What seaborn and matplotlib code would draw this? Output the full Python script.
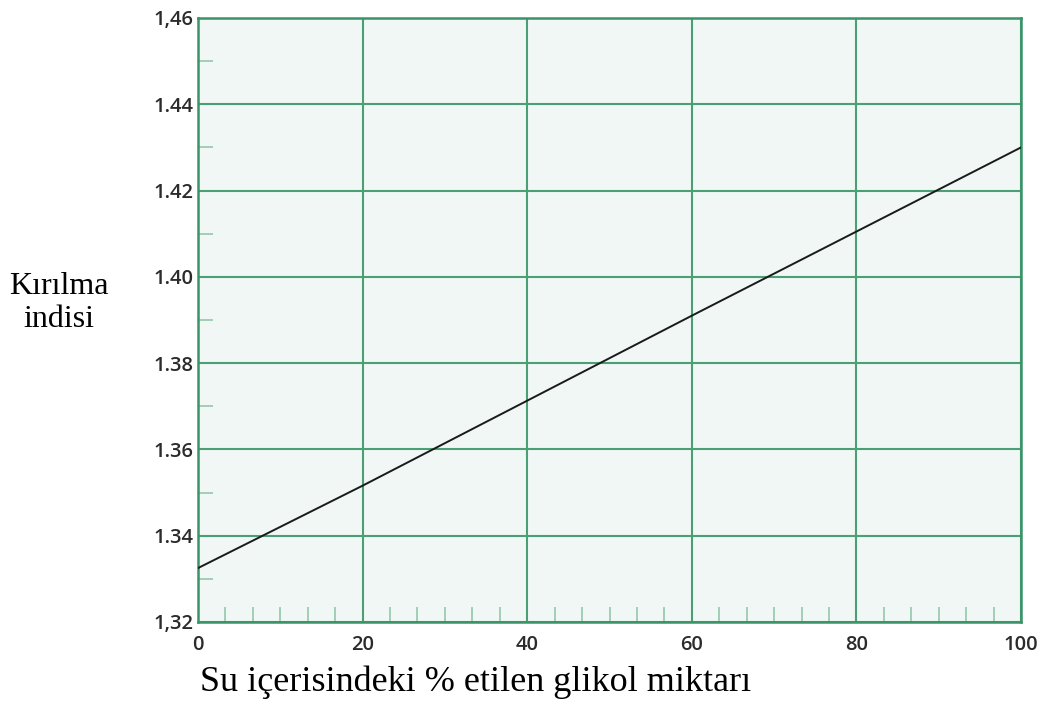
import matplotlib
matplotlib.use("Agg")
import matplotlib.pyplot as plt
import seaborn as sns
import pandas as pd
import numpy as np
from matplotlib.ticker import MultipleLocator

# Data
glycol_pct = [0, 20, 40, 60, 80, 100]
refr_index = [1.3325, 1.3516, 1.3713, 1.3910, 1.4105, 1.4300]
y_ticks = [1.32, 1.34, 1.36, 1.38, 1.40, 1.42, 1.44, 1.46]
y_tick_labels = ["1,32", "1.34", "1.36", "1.38", "1.40", "1.42", "1.44", "1,46"]
x_ticks = [0, 20, 40, 60, 80, 100]
x_tick_labels = ["0", "20", "40", "60", "80", "100"]
y_label = "Kırılma\nindisi"
x_label = "Su içerisindeki % etilen glikol miktarı"

sns.set_style("white")
plt.rcParams['font.family'] = ['Open Sans', 'DejaVu Sans']

GRID = "#4a9f74"
SPINE = "#3a9468"
MINOR = "#9ccbb1"
BG = "#f1f7f5"

fig = plt.figure(figsize=(10.48, 7.28), dpi=100)
ax = fig.add_axes([198/1048, 1-622/728, (1021-198)/1048, (622-18)/728])
ax.set_facecolor(BG)

df = pd.DataFrame({"x": glycol_pct, "y": refr_index})
sns.lineplot(data=df, x="x", y="y", ax=ax, color="#1a1a1a", linewidth=1.4, zorder=5)

ax.set_xlim(0, 100)
ax.set_ylim(1.32, 1.46)
ax.set_xticks(x_ticks)
ax.set_xticklabels(x_tick_labels)
ax.set_yticks(y_ticks)
ax.set_yticklabels(y_tick_labels)
ax.xaxis.set_minor_locator(MultipleLocator(20/6))
ax.yaxis.set_minor_locator(MultipleLocator(0.01))

ax.grid(True, which="major", color=GRID, linewidth=1.5, zorder=1)
ax.tick_params(axis="both", which="both", bottom=True, left=True, top=False, right=False)
ax.tick_params(axis="x", which="major", length=0, pad=9,
               labelsize=14.5, labelcolor="#2b2b2b")
ax.tick_params(axis="y", which="major", length=0, pad=3,
               labelsize=14.5, labelcolor="#2b2b2b")
ax.tick_params(axis="both", which="minor", direction="in", length=11,
               width=1.3, color=MINOR)
for lab in ax.get_xticklabels() + ax.get_yticklabels():
    lab.set_fontweight("semibold")

for s in ax.spines.values():
    s.set_color(SPINE)
    s.set_linewidth(1.8)

ax.set_xlabel("")
ax.set_ylabel("")

fig.text(59/1048, 1-303/728, y_label, ha="center", va="center",
         multialignment="center", fontsize=23, family="Liberation Serif",
         color="black", linespacing=1.15)
fig.text(476/1048, 1-682/728, x_label, ha="center", va="center",
         fontsize=26, family="Liberation Serif", color="black")

fig.savefig("out.png", dpi=100)
